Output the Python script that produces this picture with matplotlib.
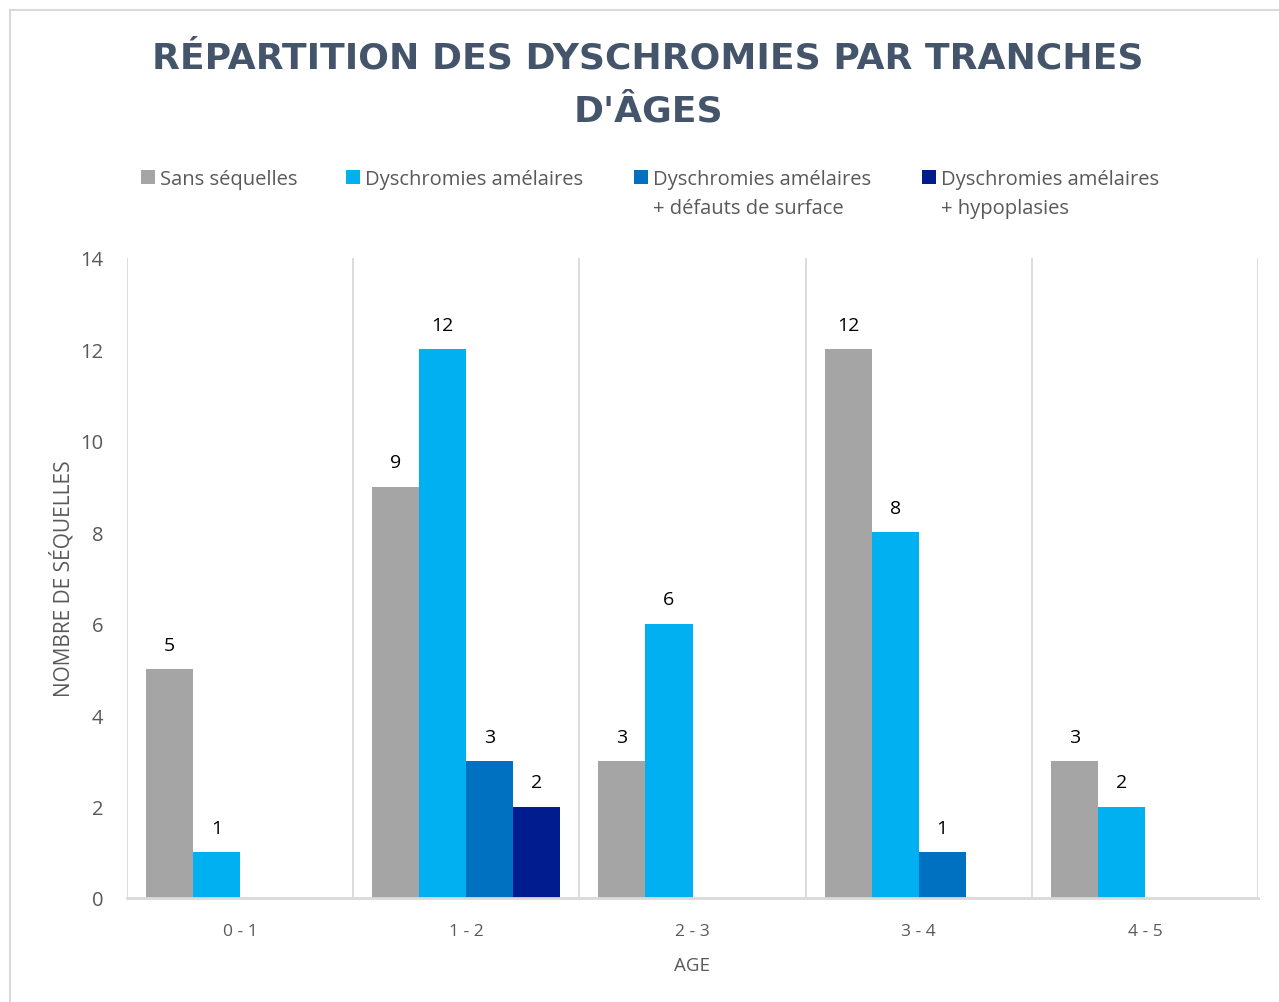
import matplotlib
matplotlib.use("Agg")
import matplotlib.pyplot as plt
from matplotlib.patches import Rectangle
import numpy as np

categories = ["0 - 1", "1 - 2", "2 - 3", "3 - 4", "4 - 5"]
series_names = ["Sans séquelles", "Dyschromies amélaires",
                "Dyschromies amélaires\n+ défauts de surface",
                "Dyschromies amélaires\n+ hypoplasies"]
sans_sequelles = [5, 9, 3, 12, 3]
dyschromies = [1, 12, 6, 8, 2]
dysch_defauts = [0, 3, 0, 1, 0]
dysch_hypoplasies = [0, 2, 0, 0, 0]
yticks = [0, 2, 4, 6, 8, 10, 12, 14]
title = "RÉPARTITION DES DYSCHROMIES PAR TRANCHES\nD'ÂGES"

series = [sans_sequelles, dyschromies, dysch_defauts, dysch_hypoplasies]
colors = ["#A5A5A5", "#00B0F0", "#0070C0", "#001C8F"]

plt.rcParams['font.family'] = ['Open Sans', 'DejaVu Sans']
W, H = 1279, 1003
fig = plt.figure(figsize=(W/100, H/100), dpi=100)
fig.patches.append(Rectangle((10/W, -0.01), 1.02, (H-11)/H + 0.01, transform=fig.transFigure,
                             fill=False, edgecolor="#D9D9D9", linewidth=1.5))

ax = fig.add_axes([127/W, 104/H, (1258-127)/W, (899-259)/H])
x = np.arange(len(categories))
bw = 0.208
gap = 0.084
for j, (vals, c, name) in enumerate(zip(series, colors, series_names)):
    pos = x - 0.5 + gap + (j + 0.5) * bw
    ax.bar(pos, vals, width=bw, color=c, label=name, zorder=3)
    for p, v in zip(pos, vals):
        if v > 0:
            ax.annotate(str(v), (p, v), xytext=(0, 11), textcoords="offset points",
                        ha="center", va="bottom", fontsize=14, color="black")

ax.set_xlim(-0.5, len(categories) - 0.5)
ax.set_ylim(0, 14)
ax.set_yticks(yticks)
ax.set_xticks(x)
ax.set_xticklabels(categories)
for gx in np.arange(-0.5, len(categories), 1.0):
    ax.axvline(gx, color="#D9D9D9", linewidth=1.3, zorder=1)
for s in ["top", "right", "left"]:
    ax.spines[s].set_visible(False)
ax.spines["bottom"].set_color("#D9D9D9")
ax.spines["bottom"].set_linewidth(2)
ax.spines["bottom"].set_zorder(4)
ax.tick_params(axis="both", length=0, labelcolor="#595959", labelsize=14.5)
ax.tick_params(axis="y", pad=17)
ax.tick_params(axis="x", pad=18)
for lab in ax.get_xticklabels():
    lab.set_fontsize(12.5)
ax.set_ylabel("NOMBRE DE SÉQUELLES", fontsize=15, color="#595959", labelpad=4)
ax.set_xlabel("AGE", fontsize=13.5, color="#595959", labelpad=12)

fig.text(648/W, 1 - 85/H, title, ha="center", va="center", fontsize=26, fontweight="bold",
         color="#44546A", family=["DejaVu Sans"], linespacing=1.7)

# manual legend
leg_x = [141, 346, 634, 922]
leg_y = 178
sq = 14
for lx, c, name in zip(leg_x, colors, series_names):
    fig.patches.append(Rectangle((lx/W, (H - leg_y - sq/2)/H), sq/W, sq/H,
                                 transform=fig.transFigure, facecolor=c, edgecolor="none"))
    fig.text((lx + 19)/W, 1 - (leg_y - 8)/H, name, ha="left", va="top", fontsize=14.5,
             color="#595959", linespacing=1.62)

fig.savefig("out.png", dpi=100)
